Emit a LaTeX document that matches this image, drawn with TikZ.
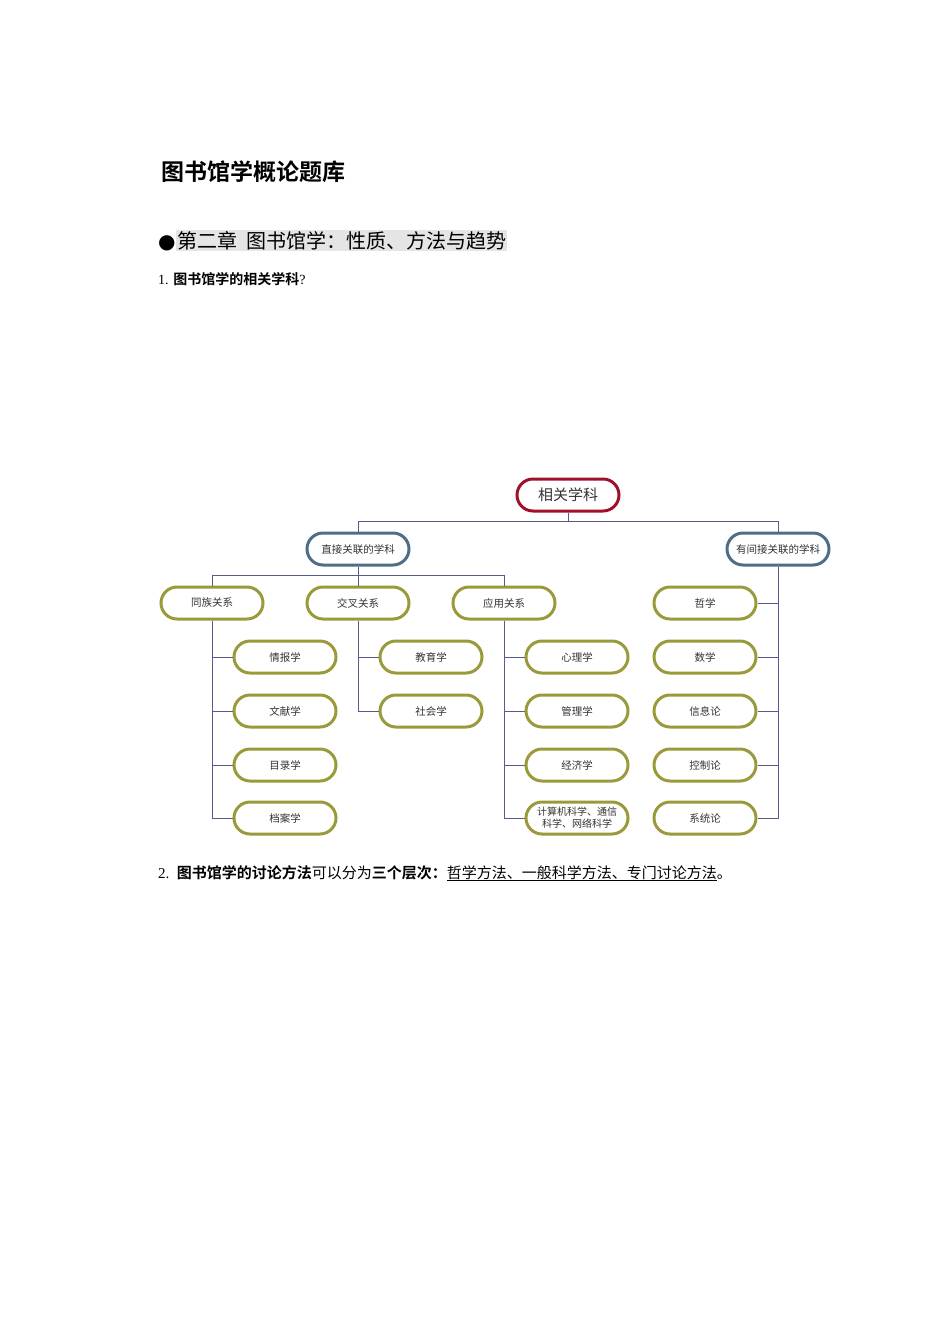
\documentclass[tikz,border=0pt]{standalone}
\usepackage{fontspec}
\usetikzlibrary{shapes.misc}
\setmainfont{Liberation Serif}
\newfontfamily\cjk{Noto Sans CJK SC}[BoldFont={* Bold}]
\newfontfamily\sym{DejaVu Sans}
\definecolor{rootc}{HTML}{A0102A}
\definecolor{midc}{HTML}{4F6E85}
\definecolor{leafc}{HTML}{9A9A3A}
\definecolor{linec}{HTML}{5A5A8A}
\begin{document}
\begin{tikzpicture}[x=1pt,y=-1pt,
  pill/.style={rounded rectangle, draw, line width=3pt, minimum width=104pt, minimum height=32pt, inner sep=1pt, fill=white, font=\cjk\fontsize{10.5}{12}\selectfont, align=center, text=black!80},
  rootbox/.style={pill, draw=rootc, font=\cjk\fontsize{15}{17}\selectfont},
  midbox/.style={pill, draw=midc},
  leafbox/.style={pill, draw=leafc},
  conn/.style={draw=linec, line width=0.8pt}]
\useasboundingbox (0,0) rectangle (950,1344);
\node[anchor=base west, font=\cjk\bfseries\fontsize{23}{26}\selectfont] (title) at (158,180) {图书馆学概论题库};
\node[anchor=base west, inner sep=0pt, font=\fontsize{20}{22}\selectfont] (bullet) at (158,248) {\sym ●};
\node[anchor=base west, inner sep=1pt, fill=black!10, font=\cjk\fontsize{20}{24}\selectfont] (head) at (176,248) {第二章\ \ 图书馆学：性质、方法与趋势};
\node[anchor=base west, inner sep=0pt, font=\fontsize{14}{16}\selectfont] (q1) at (158,284) {1. {\cjk\bfseries 图书馆学的相关学科}?};
\node[anchor=base west, inner sep=0pt, font=\fontsize{15}{17}\selectfont] (q2) at (158,878) {2.\ \ {\cjk\bfseries 图书馆学的讨论方法}{\cjk 可以分为}{\cjk\bfseries 三个层次：}{\cjk\underline{哲学方法、一般科学方法、专门讨论方法}。}};

\node[rootbox] (root) at (568,495) {相关学科};
\node[midbox] (dir) at (358,549) {直接关联的学科};
\node[midbox] (ind) at (778,549) {有间接关联的学科};
\node[leafbox] (tz) at (212,603) {同族关系};
\node[leafbox] (jc) at (358,603) {交叉关系};
\node[leafbox] (yy) at (504,603) {应用关系};
\node[leafbox] (zx) at (705,603) {哲学};
\node[leafbox] (qb) at (285,657) {情报学};
\node[leafbox] (wx) at (285,711) {文献学};
\node[leafbox] (ml) at (285,765) {目录学};
\node[leafbox] (da) at (285,818) {档案学};
\node[leafbox] (jy) at (431,657) {教育学};
\node[leafbox] (sh) at (431,711) {社会学};
\node[leafbox] (xl) at (577,657) {心理学};
\node[leafbox] (gl) at (577,711) {管理学};
\node[leafbox] (jj) at (577,765) {经济学};
\node[leafbox, font=\cjk\fontsize{10}{12}\selectfont] (js) at (577,818) {计算机科学、通信\\科学、网络科学};
\node[leafbox] (sx) at (705,657) {数学};
\node[leafbox] (xx) at (705,711) {信息论};
\node[leafbox] (kz) at (705,765) {控制论};
\node[leafbox] (xt) at (705,818) {系统论};

\coordinate (r1) at (568,521);
\draw[conn] (root.south) -- (r1) -| (dir.north);
\draw[conn] (r1) -| (ind.north);
\coordinate (d1) at (358,575);
\draw[conn] (dir.south) -- (d1) -| (tz.north);
\draw[conn] (d1) -| (yy.north);
\draw[conn] (d1) -- (jc.north);
\foreach \p/\c in {tz/qb, tz/wx, tz/ml, tz/da, jc/jy, jc/sh, yy/xl, yy/gl, yy/jj, yy/js}
  \draw[conn] (\p.south) |- (\c.west);
\foreach \c in {zx, sx, xx, kz, xt}
  \draw[conn] (ind.south) |- (\c.east);
\end{tikzpicture}
\end{document}
